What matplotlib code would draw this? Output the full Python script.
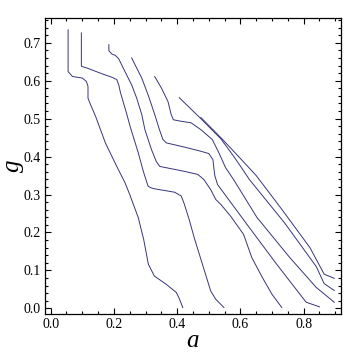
import matplotlib.pyplot as plt
from matplotlib.ticker import MultipleLocator

# contour lines (a, g)
c1_a = [0.055, 0.055, 0.069, 0.100, 0.113, 0.118, 0.118, 0.126, 0.142, 0.173, 0.209, 0.235, 0.250, 0.277, 0.294, 0.309, 0.328, 0.366, 0.397, 0.405, 0.418]
c1_g = [0.734, 0.624, 0.611, 0.607, 0.598, 0.585, 0.554, 0.537, 0.506, 0.436, 0.374, 0.331, 0.300, 0.239, 0.182, 0.116, 0.085, 0.063, 0.042, 0.029, 0.002]

c2_a = [0.097, 0.097, 0.116, 0.163, 0.194, 0.209, 0.216, 0.220, 0.230, 0.241, 0.251, 0.277, 0.293, 0.308, 0.319, 0.329, 0.392, 0.413, 0.423, 0.438, 0.454, 0.480, 0.506, 0.522, 0.548]
c2_g = [0.726, 0.638, 0.633, 0.618, 0.609, 0.603, 0.587, 0.571, 0.542, 0.511, 0.480, 0.410, 0.361, 0.322, 0.317, 0.315, 0.306, 0.296, 0.274, 0.234, 0.186, 0.116, 0.046, 0.024, 0.002]

c3_a = [0.184, 0.184, 0.194, 0.204, 0.215, 0.235, 0.256, 0.272, 0.288, 0.298, 0.319, 0.334, 0.345, 0.381, 0.423, 0.465, 0.484, 0.506, 0.522, 0.538, 0.569, 0.610, 0.636, 0.669, 0.700, 0.731]
c3_g = [0.695, 0.679, 0.670, 0.667, 0.658, 0.624, 0.589, 0.554, 0.511, 0.471, 0.418, 0.387, 0.374, 0.368, 0.361, 0.353, 0.340, 0.313, 0.287, 0.274, 0.243, 0.195, 0.134, 0.082, 0.037, 0.002]

c4_a = [0.256, 0.288, 0.308, 0.329, 0.344, 0.355, 0.366, 0.428, 0.475, 0.500, 0.513, 0.519, 0.528, 0.621, 0.715, 0.808, 0.850]
c4_g = [0.660, 0.607, 0.563, 0.511, 0.471, 0.445, 0.436, 0.424, 0.414, 0.408, 0.392, 0.350, 0.326, 0.221, 0.116, 0.016, 0.004]

c5_a = [0.329, 0.350, 0.371, 0.381, 0.388, 0.413, 0.444, 0.475, 0.511, 0.532, 0.553, 0.578, 0.652, 0.756, 0.840, 0.897]
c5_g = [0.611, 0.581, 0.545, 0.511, 0.497, 0.493, 0.489, 0.471, 0.445, 0.410, 0.371, 0.340, 0.240, 0.134, 0.055, 0.016]

c6_a = [0.407, 0.475, 0.538, 0.575, 0.600, 0.628, 0.740, 0.840, 0.865, 0.897]
c6_g = [0.555, 0.500, 0.447, 0.405, 0.375, 0.340, 0.225, 0.110, 0.065, 0.047]

c7_a = [0.475, 0.538, 0.600, 0.650, 0.730, 0.820, 0.865, 0.897]
c7_g = [0.503, 0.450, 0.395, 0.350, 0.262, 0.160, 0.090, 0.079]

curves = [(c1_a, c1_g), (c2_a, c2_g), (c3_a, c3_g), (c4_a, c4_g),
          (c5_a, c5_g), (c6_a, c6_g), (c7_a, c7_g)]

plt.rcParams['font.family'] = ['Liberation Serif', 'DejaVu Serif']

fig = plt.figure(figsize=(3.6, 3.55), dpi=100)
ax = fig.add_axes([0.125, 0.1155, 0.822, 0.8335])

for a, g in curves:
    ax.plot(a, g, color='#36367a', linewidth=0.7)

ax.set_xlim(-0.018, 0.918)
ax.set_ylim(-0.015, 0.765)
ax.xaxis.set_major_locator(MultipleLocator(0.2))
ax.xaxis.set_minor_locator(MultipleLocator(0.05))
ax.yaxis.set_major_locator(MultipleLocator(0.1))
ax.yaxis.set_minor_locator(MultipleLocator(0.02))
ax.xaxis.set_major_formatter(lambda v, p: f'{v:.1f}')
ax.yaxis.set_major_formatter(lambda v, p: f'{v:.1f}')
ax.tick_params(which='both', direction='in', top=True, right=True, labelsize=10, width=0.8, pad=3)
ax.tick_params(which='major', length=4.5)
ax.tick_params(which='minor', length=2.5)
for s in ax.spines.values():
    s.set_linewidth(0.9)

ax.set_xlabel('a', fontsize=18, style='italic', labelpad=-1)
ax.set_ylabel('g', fontsize=18, style='italic', labelpad=0)

fig.savefig('out.png', dpi=100)
